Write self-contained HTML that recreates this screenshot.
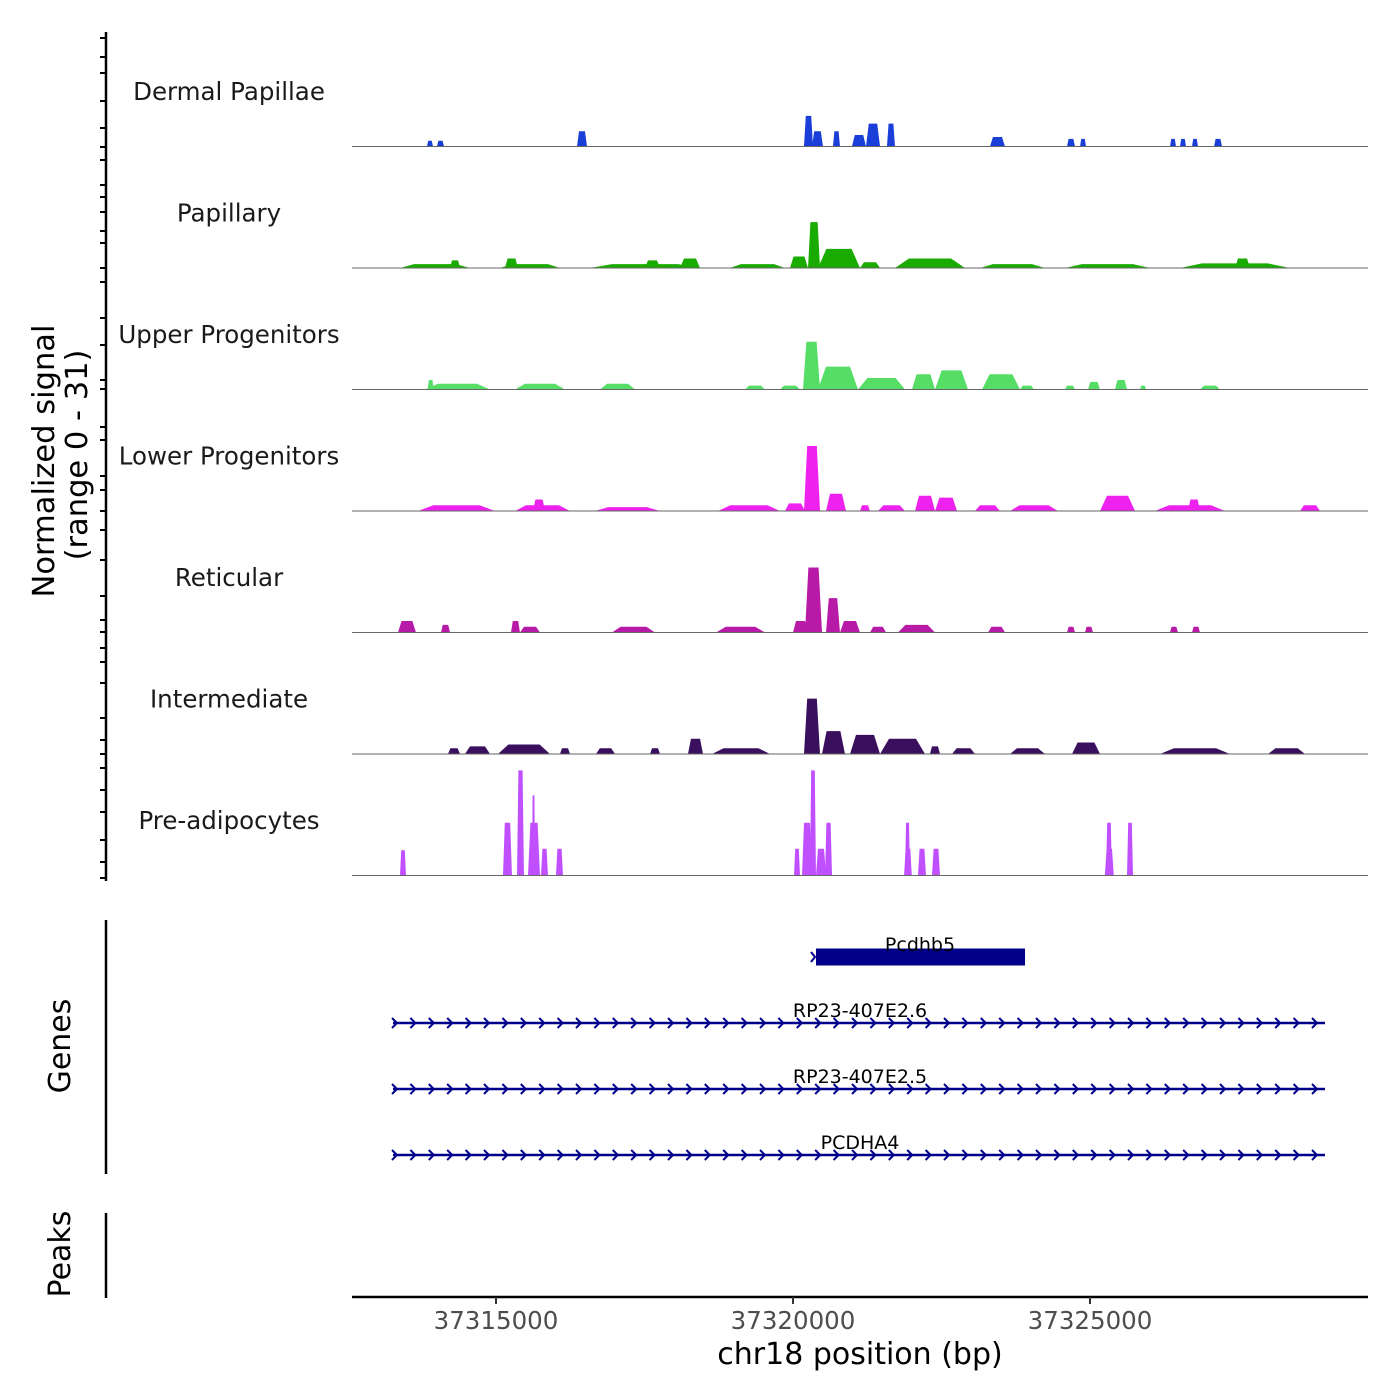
<!DOCTYPE html>
<html><head><meta charset="utf-8"><style>
body{margin:0;background:#fff}
svg{display:block;font-family:"DejaVu Sans","Liberation Sans",sans-serif}
</style></head><body>
<svg id="chart" width="1400" height="1400" viewBox="0 0 1400 1400" xmlns="http://www.w3.org/2000/svg">
<g id="tracks"></g>
<g id="genes"></g>
<g id="axes"></g>
</svg>
<script>
const trackNames = ["Dermal Papillae","Papillary","Upper Progenitors","Lower Progenitors","Reticular","Intermediate","Pre-adipocytes"];
const trackColors = ["#1a3fd9","#1aab00","#55dd66","#ee22ee","#b81aa8","#3a0f5e","#c050ff"];
const xTicks = [37315000,37320000,37325000];
const xTickLabels = ["37315000","37320000","37325000"];
const yMax = 31;
// segments: [start bp, end bp, value]
const dermalPapillae = [[37313838,37313939,1.5],[37314006,37314125,1.5],[37316364,37316532,4],[37320185,37320337,8],[37320320,37320505,4],[37320673,37320791,4],[37320993,37321229,3],[37321229,37321465,6],[37321582,37321717,6],[37323316,37323569,2.5],[37324613,37324747,2],[37324832,37324933,2],[37326347,37326448,2],[37326515,37326616,2],[37326717,37326818,2],[37327088,37327222,2]];
const papillary = [[37313384,37314562,1],[37314226,37314394,2],[37315067,37316077,1],[37315152,37315370,2.5],[37316582,37318434,1],[37317508,37317761,2],[37318098,37318434,2.5],[37318939,37319865,1],[37319949,37320253,3],[37320253,37320455,12],[37320421,37321128,5],[37321128,37321465,1.5],[37321717,37322896,2.5],[37323148,37324242,1],[37324579,37326010,1],[37326515,37328367,1.2],[37327441,37327694,2.5]];
const upperProgenitors = [[37313805,37314899,1.5],[37313850,37313950,2.5],[37315320,37316162,1.5],[37316751,37317340,1.5],[37319192,37319529,1],[37319781,37320118,1],[37320168,37320455,12.5],[37320421,37321094,6],[37321094,37321886,3],[37322003,37322391,4],[37322391,37322946,5],[37323182,37323821,4],[37323821,37324056,1],[37324579,37324747,1],[37324966,37325168,2],[37325421,37325623,2.5],[37325841,37325943,1],[37326852,37327188,1]];
const lowerProgenitors = [[37313687,37314983,1.5],[37315320,37316246,1.5],[37315623,37315825,3],[37316667,37317761,1],[37318737,37319781,1.5],[37319865,37320202,2],[37320185,37320455,17],[37320556,37320892,4.5],[37321128,37321296,1.5],[37321431,37321886,1.5],[37322054,37322391,4],[37322391,37322761,3.5],[37323064,37323485,1.5],[37323653,37324461,1.5],[37325168,37325758,4],[37326094,37327273,1.5],[37326650,37326852,3],[37328535,37328872,1.5]];
const reticular = [[37313350,37313653,3],[37314074,37314226,2],[37315253,37315404,3],[37315404,37315741,1.5],[37316953,37317677,1.5],[37318704,37319529,1.5],[37320000,37320253,3],[37320202,37320488,17],[37320556,37320791,9],[37320791,37321128,3],[37321296,37321566,1.5],[37321768,37322391,2],[37323283,37323569,1.5],[37324613,37324747,1.5],[37324916,37325050,1.5],[37326347,37326481,1.5],[37326717,37326852,1.5]];
const intermediate = [[37314192,37314394,1.5],[37314478,37314899,2],[37315034,37315909,2.5],[37316077,37316246,1.5],[37316684,37317003,1.5],[37317593,37317761,1.5],[37318232,37318485,4],[37318636,37319613,1.5],[37320185,37320455,14.5],[37320488,37320875,6],[37320960,37321465,5],[37321465,37322222,4],[37322306,37322475,2],[37322677,37323064,1.5],[37323653,37324242,1.5],[37324697,37325168,3],[37326178,37327357,1.5],[37327997,37328620,1.5]];
const preAdipocytes = [[37313384,37313485,6.6],[37315118,37315269,13.8],[37315354,37315471,27.5],[37315539,37315741,13.8],[37315606,37315657,21],[37315758,37315875,7],[37316010,37316128,7],[37320017,37320118,7],[37320152,37320320,13.8],[37320286,37320387,27.5],[37320387,37320556,7],[37320539,37320657,13.8],[37321886,37321970,13.8],[37321870,37322000,7],[37322104,37322239,7],[37322340,37322475,7],[37325269,37325370,13.8],[37325250,37325400,7],[37325623,37325724,13.8]];
const trackData = [dermalPapillae,papillary,upperProgenitors,lowerProgenitors,reticular,intermediate,preAdipocytes];
const geneNames = ["Pcdhb5","RP23-407E2.6","RP23-407E2.5","PCDHA4"];
const geneStarts = [37320387,37313266,37313266,37313266];
const geneEnds = [37323906,37328956,37328956,37328956];
const geneThick = [true,false,false,false];
const leftTicks = [38,57,73,101,128,147,160,185,197,212,231,243,268,282,318,345,380,389,427,440,476,490,511,530,560,596,620,632,648,662,683,718,740,754,768,790,812,840,862,878];

const NS="http://www.w3.org/2000/svg";
const X0=352,X1=1368,BP0=37312576,BP1=37329680;
const xs = bp => X0 + (bp-BP0)/(BP1-BP0)*(X1-X0);
const trackTop = 25, trackH = 121.5;
const ys = (v,i) => trackTop+(i+1)*trackH - v/yMax*(trackH-3);
function mk(tag,attrs,parent){const e=document.createElementNS(NS,tag);for(const k in attrs)e.setAttribute(k,attrs[k]);parent.appendChild(e);return e;}
const gT=document.getElementById('tracks'),gG=document.getElementById('genes'),gA=document.getElementById('axes');

trackData.forEach((segs,i)=>{
  const base=ys(0,i);
  const lab=mk('text',{x:229,y:trackTop+i*trackH+75,'text-anchor':'middle','font-size':24.5,fill:'#1a1a1a'},gT);
  lab.textContent=trackNames[i];
  
  
  segs.forEach(s=>{
    const a=xs(s[0]),b=xs(s[1]),w=b-a,top=ys(s[2],i);
    const p=mk('path',{d:`M${a},${base}L${a+w*0.2},${top}L${b-w*0.2},${top}L${b},${base}Z`,fill:trackColors[i]},gT);
    
    
  });
  const bl=mk('line',{x1:X0,x2:X1,y1:base,y2:base,stroke:'#666','stroke-width':1},gT);
  
  
});

const geneY=[957,1023,1089,1155];
geneNames.forEach((n,i)=>{
  const a=xs(geneStarts[i]),b=xs(geneEnds[i]),y=geneY[i];
  if(geneThick[i]){
    const r=mk('rect',{x:a,y:y-8.5,width:b-a,height:17,fill:'#00008b'},gG);
    
    
    mk('path',{d:`M${a-5},${y-5}L${a-1},${y}L${a-5},${y+5}`,fill:'none',stroke:'#00008b','stroke-width':2},gG);
  } else {
    const l=mk('line',{x1:a,x2:b,y1:y,y2:y,stroke:'#00008b','stroke-width':2.5},gG);
    
    
    for(let x=a+2;x<=b;x+=18.4){mk('path',{d:`M${x-3},${y-5}L${x+2},${y}L${x-3},${y+5}`,fill:'none',stroke:'#00008b','stroke-width':2},gG);}
  }
  const t=mk('text',{x:i==0?920:860,y:y-6,'text-anchor':'middle','font-size':19,fill:'#000'},gG);
  t.textContent=n;
  
  
});

mk('line',{x1:106,x2:106,y1:32,y2:881,stroke:'#000','stroke-width':2.5},gA);
leftTicks.forEach(y=>mk('line',{x1:100,x2:106,y1:y,y2:y,stroke:'#000','stroke-width':2},gA));
mk('line',{x1:106,x2:106,y1:920,y2:1174,stroke:'#000','stroke-width':2.5},gA);
mk('line',{x1:106,x2:106,y1:1213,y2:1298,stroke:'#000','stroke-width':2.5},gA);
mk('line',{x1:352,x2:1368,y1:1297,y2:1297,stroke:'#000','stroke-width':2.5},gA);
xTicks.forEach((v,i)=>{
  mk('line',{x1:xs(v),x2:xs(v),y1:1297,y2:1304,stroke:'#333','stroke-width':2},gA);
  const t=mk('text',{x:xs(v),y:1329,'text-anchor':'middle','font-size':24.5,fill:'#4d4d4d'},gA);
  t.textContent=xTickLabels[i];
  
  
});
function txt(s,attrs,name){const t=mk('text',attrs,gA);t.textContent=s;}
txt('chr18 position (bp)',{x:860,y:1364,'text-anchor':'middle','font-size':30,fill:'#000'},'x-axis-title');
txt('Normalized signal',{x:0,y:0,transform:'translate(54,461) rotate(-90)','text-anchor':'middle','font-size':30.5,fill:'#000'},'y-axis-title');
txt('(range 0 - 31)',{x:0,y:0,transform:'translate(87,455) rotate(-90)','text-anchor':'middle','font-size':30.5,fill:'#000'},'y-axis-range');
txt('Genes',{x:0,y:0,transform:'translate(70,1046) rotate(-90)','text-anchor':'middle','font-size':30,fill:'#000'},'genes-axis-title');
txt('Peaks',{x:0,y:0,transform:'translate(70,1254) rotate(-90)','text-anchor':'middle','font-size':30,fill:'#000'},'peaks-axis-title');
</script>
</body></html>
